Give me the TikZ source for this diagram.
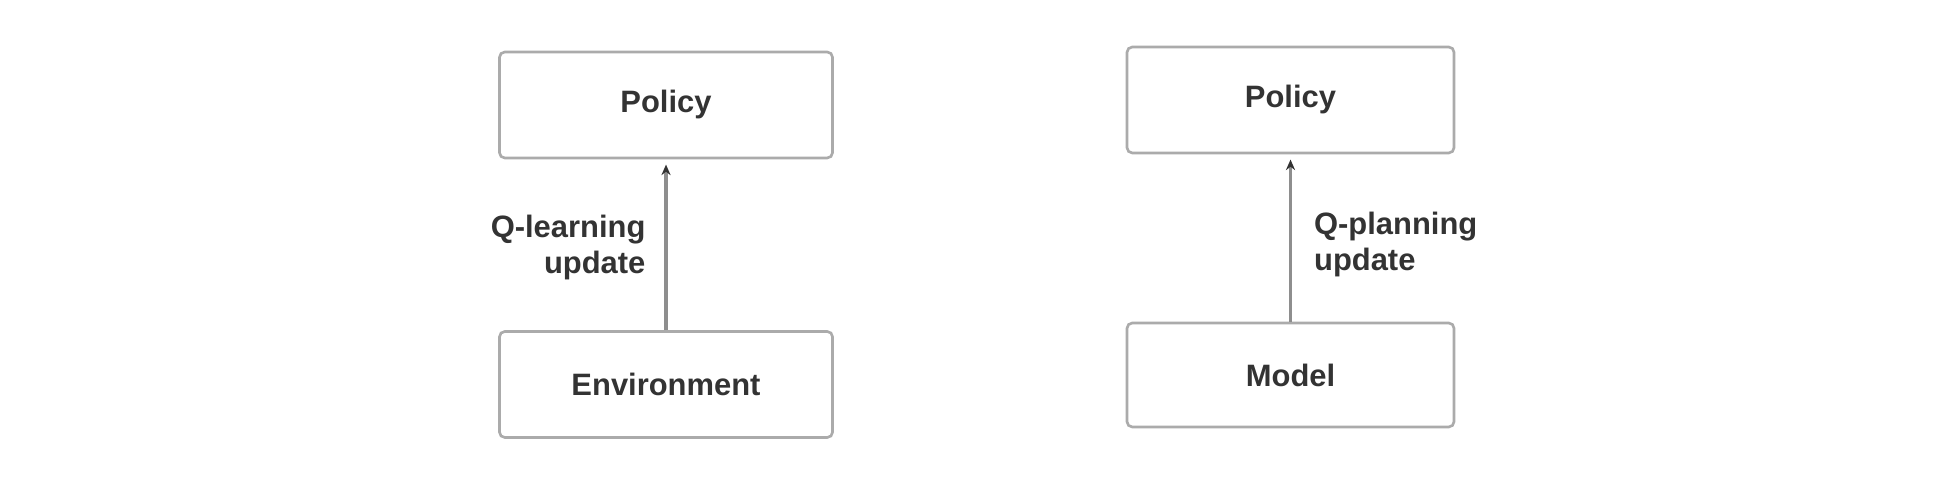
\documentclass[tikz,border=0pt]{standalone}
\usepackage{fontspec}
\setmainfont{Liberation Sans}
\usepackage{tikz}
\usetikzlibrary{arrows.meta,positioning}
\definecolor{Frame}{HTML}{ABABAB}
\definecolor{Link}{HTML}{8E8E8E}
\definecolor{Ink}{HTML}{333333}

\begin{document}
\begin{tikzpicture}[
  box/.style={draw=Frame, rounded corners=1.5pt, line width=0.75pt, minimum width=3.33cm,
              minimum height=1.06cm, font=\fontsize{8.8}{10.2}\selectfont\bfseries,
              text=Ink, align=center},
  arr/.style={-{Stealth[length=3pt,width=2.6pt,color=Ink]}, line width=0.9pt, draw=Link},
  lbl/.style={font=\fontsize{8.8}{10.2}\selectfont\bfseries, text=Ink, inner sep=0pt}
]
  \useasboundingbox (0,0) rectangle (19.44,4.80);
  \node[box] (polL) at (6.66,3.75)  {Policy};
  \node[box] (env)  at (6.66,0.955) {Environment};
  \node[box, minimum width=3.27cm] (polR) at (12.905,3.80) {Policy};
  \node[box, minimum width=3.27cm, minimum height=1.04cm] (model) at (12.905,1.05) {Model};

  \draw[arr] (env.north)   -- node[lbl, left=0.19cm, align=right]{Q-learning\\update} ([yshift=-1.5pt]polL.south);
  \draw[arr] (model.north) -- node[lbl, right=0.22cm, align=left, yshift=-1pt]{Q-planning\\update} ([yshift=-1.5pt]polR.south);
\end{tikzpicture}
\end{document}
